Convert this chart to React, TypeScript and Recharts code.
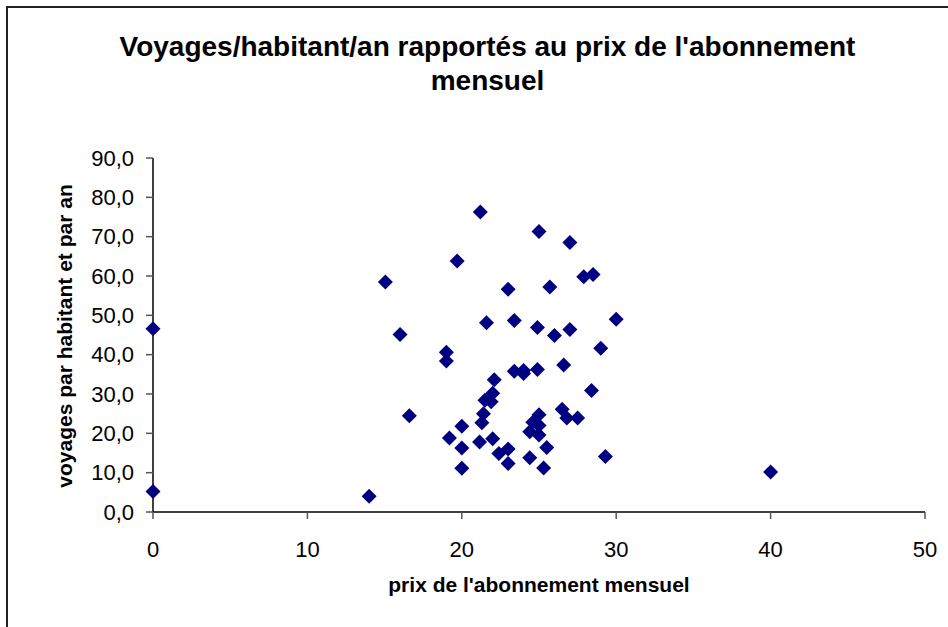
import React from "react";
import { ScatterChart, Scatter, XAxis, YAxis } from "recharts";

// prix de l'abonnement mensuel
const prix = [
  0, 0, 14.0, 15.05, 16.0, 16.6, 19.0, 19.0, 19.2, 19.7,
  20.0, 20.0, 20.0, 21.2, 21.15, 21.3, 21.4, 21.5, 21.6, 21.9,
  22.0, 22.0, 22.1, 22.4, 23.0, 23.0, 23.0, 23.4, 23.4, 24.0,
  24.0, 24.4, 24.4, 24.6, 24.9, 24.9, 25.0, 25.0, 25.0, 25.0,
  25.3, 25.5, 25.7, 26.0, 26.5, 26.6, 26.8, 27.0, 27.0, 27.5,
  27.9, 28.4, 28.5, 29.0, 29.3, 30.0, 40.0,
];

// voyages par habitant et par an
const voyages = [
  46.6, 5.2, 4.0, 58.5, 45.1, 24.5, 40.6, 38.4, 18.8, 63.8,
  21.8, 16.3, 11.1, 76.3, 17.8, 22.7, 25.0, 28.4, 48.1, 28.0,
  30.2, 18.6, 33.6, 14.9, 56.6, 16.0, 12.3, 48.7, 35.8, 36.0,
  35.2, 13.8, 20.4, 22.8, 46.9, 36.2, 71.3, 24.7, 22.0, 19.6,
  11.2, 16.4, 57.2, 44.9, 26.1, 37.4, 23.9, 68.5, 46.4, 23.9,
  59.8, 30.9, 60.4, 41.6, 14.1, 49.0, 10.2,
];

const xTicks = [0, 10, 20, 30, 40, 50];
const yTicks = [0, 10, 20, 30, 40, 50, 60, 70, 80, 90];

const titre = ["Voyages/habitant/an rapportés au prix de l'abonnement", "mensuel"];
const titreX = "prix de l'abonnement mensuel";
const titreY = "voyages par habitant et par an";

const data = prix.map((x, i) => ({ x, y: voyages[i] }));

const font = "'Liberation Sans', Arial, sans-serif";

const Diamond = (props: any) => {
  const { cx, cy } = props;
  const r = 7.5;
  return (
    <polygon
      points={`${cx},${cy - r} ${cx + r},${cy} ${cx},${cy + r} ${cx - r},${cy}`}
      fill="#000080"
    />
  );
};

export default function App() {
  return (
    <div
      style={{
        position: "absolute",
        left: 0,
        top: 0,
        width: 948,
        height: 627,
        overflow: "hidden",
        background: "#fff",
        fontFamily: font,
      }}
    >
      <div
        style={{
          position: "absolute",
          left: 6,
          top: 6,
          width: 980,
          height: 660,
          border: "2px solid #222",
        }}
      />
      <div
        style={{
          position: "absolute",
          left: 0,
          width: 975,
          top: 30,
          textAlign: "center",
          fontWeight: "bold",
          fontSize: 28,
          lineHeight: "34px",
          color: "#000",
        }}
      >
        {titre.map((t) => (
          <div key={t}>{t}</div>
        ))}
      </div>
      <div
        style={{
          position: "absolute",
          left: 339,
          width: 400,
          top: 573,
          lineHeight: "24px",
          textAlign: "center",
          fontWeight: "bold",
          fontSize: 21,
          color: "#000",
        }}
      >
        {titreX}
      </div>
      <div
        style={{
          position: "absolute",
          left: 65 - 200,
          top: 336 - 12,
          width: 400,
          height: 24,
          lineHeight: "24px",
          textAlign: "center",
          fontWeight: "bold",
          fontSize: 21,
          color: "#000",
          transform: "rotate(-90deg)",
        }}
      >
        {titreY}
      </div>
      <div style={{ position: "absolute", left: 0, top: 0 }}>
        <ScatterChart
          width={948}
          height={627}
          margin={{ top: 158, right: 23, bottom: 55, left: 53 }}
        >
          <XAxis
            type="number"
            dataKey="x"
            domain={[0, 50]}
            ticks={xTicks}
            height={60}
            tickSize={7}
            tickMargin={22}
            axisLine={{ stroke: "#000", strokeWidth: 1.5 }}
            tickLine={{ stroke: "#555", strokeWidth: 1.5 }}
            tick={{ fill: "#000", fontSize: 22, fontFamily: font }}
          />
          <YAxis
            type="number"
            dataKey="y"
            domain={[0, 90]}
            ticks={yTicks}
            width={100}
            tickSize={7}
            tickMargin={12}
            axisLine={{ stroke: "#000", strokeWidth: 1.5 }}
            tickLine={{ stroke: "#555", strokeWidth: 1.5 }}
            tick={{ fill: "#000", fontSize: 22, fontFamily: font }}
            tickFormatter={(v: number) => v.toFixed(1).replace(".", ",")}
          />
          <Scatter data={data} shape={Diamond} isAnimationActive={false} />
        </ScatterChart>
      </div>
    </div>
  );
}
